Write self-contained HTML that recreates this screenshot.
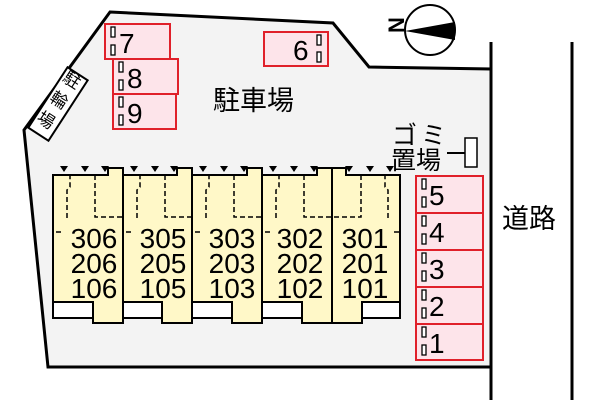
<!DOCTYPE html>
<html><head><meta charset="utf-8"><style>body{margin:0;background:#fff}svg{display:block}</style></head><body>
<svg width="600" height="400" viewBox="0 0 600 400" xmlns="http://www.w3.org/2000/svg" font-family="Liberation Sans, Noto Sans CJK JP, sans-serif">
<polygon points="110,12 333,23 369,67 491,69 491,367 48,367 24,130" fill="#f3f3f3" stroke="#000" stroke-width="3"/>
<line x1="491" y1="42" x2="491" y2="400" stroke="#000" stroke-width="3"/>
<line x1="572" y1="42" x2="572" y2="400" stroke="#000" stroke-width="3"/>
<circle cx="430" cy="30" r="25" fill="#fff" stroke="#000" stroke-width="2"/>
<polygon points="405,31 455,22 455,40" fill="#000"/>
<text x="394" y="39" font-size="22" font-weight="bold" transform="rotate(-90 396 31)">N</text>
<g fill="#fde4ea" stroke="#e0202a" stroke-width="2">
<rect x="105" y="24" width="65" height="35"/><rect x="113" y="59" width="65" height="35"/><rect x="113" y="94" width="63" height="35"/>
<rect x="264" y="32" width="64" height="34"/>
<rect x="416" y="176" width="67" height="37"/><rect x="416" y="213" width="67" height="37"/><rect x="416" y="250" width="67" height="37"/><rect x="416" y="287" width="67" height="37"/><rect x="416" y="324" width="67" height="36"/>
</g>
<g fill="#fff" stroke="#000" stroke-width="1.3">
<rect x="111" y="27" width="4" height="10"/><rect x="111" y="45" width="4" height="10"/>
<rect x="119" y="62" width="4" height="10"/><rect x="119" y="80" width="4" height="10"/>
<rect x="119" y="97" width="4" height="10"/><rect x="119" y="115" width="4" height="10"/>
<rect x="317" y="35" width="4" height="10"/><rect x="317" y="52" width="4" height="10"/>
<rect x="422" y="179" width="4" height="10"/><rect x="422" y="197" width="4" height="10"/>
<rect x="422" y="216" width="4" height="10"/><rect x="422" y="234" width="4" height="10"/>
<rect x="422" y="253" width="4" height="10"/><rect x="422" y="271" width="4" height="10"/>
<rect x="422" y="290" width="4" height="10"/><rect x="422" y="308" width="4" height="10"/>
<rect x="422" y="327" width="4" height="10"/><rect x="422" y="345" width="4" height="10"/>
</g>
<g font-size="28" fill="#000">
<text x="119" y="53">7</text><text x="127" y="88">8</text><text x="127" y="123">9</text>
<text x="293" y="60">6</text>
<text x="429" y="205">5</text><text x="429" y="242">4</text><text x="429" y="279">3</text><text x="429" y="316">2</text><text x="429" y="353">1</text>
</g>
<text x="213" y="110" font-size="27">駐車場</text>
<text x="502" y="228" font-size="27">道路</text>
<text x="392" y="144" font-size="25" letter-spacing="4">ゴミ</text>
<text x="391" y="169" font-size="25">置場</text>
<line x1="447" y1="153" x2="465" y2="153" stroke="#000" stroke-width="2"/>
<rect x="465" y="138" width="12" height="29" fill="#fff" stroke="#000" stroke-width="1.5"/>
<g transform="translate(58,104) rotate(-57)">
<rect x="-36" y="-12" width="72" height="24" fill="#fff" stroke="#000" stroke-width="2"/>
</g>
<g font-size="17" text-anchor="middle">
<text x="72" y="86" transform="rotate(33 72 80)">駐</text>
<text x="59" y="106" transform="rotate(33 59 100)">輪</text>
<text x="46" y="126" transform="rotate(33 46 120)">場</text>
</g>
<g fill="#fff8c8" stroke="#000" stroke-width="2">
<polygon points="53,175 108,175 108,168 123,168 123,323 93,323 93,318 53,318"/>
<polygon points="123,175 177,175 177,168 192,168 192,323 162,323 162,318 123,318"/>
<polygon points="192,175 247,175 247,168 262,168 262,323 232,323 232,318 192,318"/>
<polygon points="262,175 317,175 317,168 332,168 332,323 302,323 302,318 262,318"/>
<polygon points="332,168 346,168 346,175 400,175 400,318 362,318 362,323 332,323"/>
</g>
<g fill="#fff" stroke="#000" stroke-width="2">
<rect x="53" y="302" width="40" height="16"/><rect x="123" y="302" width="39" height="16"/><rect x="192" y="302" width="40" height="16"/><rect x="262" y="302" width="40" height="16"/><rect x="362" y="302" width="38" height="16"/>
</g>
<g fill="none" stroke="#000" stroke-width="1.5" stroke-dasharray="5,3">
<path d="M67,218 V190 L70,187 V175 M95,175 V217 H123 M56,232 H62"/>
<path d="M137,218 V190 L140,187 V175 M165,175 V217 H192 M126,232 H132"/>
<path d="M206,218 V190 L209,187 V175 M234,175 V217 H262 M195,232 H201"/>
<path d="M276,218 V190 L279,187 V175 M304,175 V217 H332 M265,232 H271"/>
<path d="M388,218 V190 L385,187 V175 M361,175 V217 H332 M394,232 H400"/>
</g>
<g fill="#000">
<path d="M60,166h8l-4,6z M81,166h8l-4,6z M101,166h8l-4,6z M130,166h8l-4,6z M151,166h8l-4,6z M170,166h8l-4,6z M199,166h8l-4,6z M220,166h8l-4,6z M240,166h8l-4,6z M269,166h8l-4,6z M290,166h8l-4,6z M310,166h8l-4,6z M345,166h8l-4,6z M366,166h8l-4,6z M386,166h8l-4,6z"/>
</g>
<g font-size="28" text-anchor="middle" fill="#000">
<text x="94" y="248">306</text><text x="94" y="273">206</text><text x="94" y="298">106</text>
<text x="163" y="248">305</text><text x="163" y="273">205</text><text x="163" y="298">105</text>
<text x="232" y="248">303</text><text x="232" y="273">203</text><text x="232" y="298">103</text>
<text x="300" y="248">302</text><text x="300" y="273">202</text><text x="300" y="298">102</text>
<text x="365" y="248">301</text><text x="365" y="273">201</text><text x="365" y="298">101</text>
</g>
</svg>
</body></html>
